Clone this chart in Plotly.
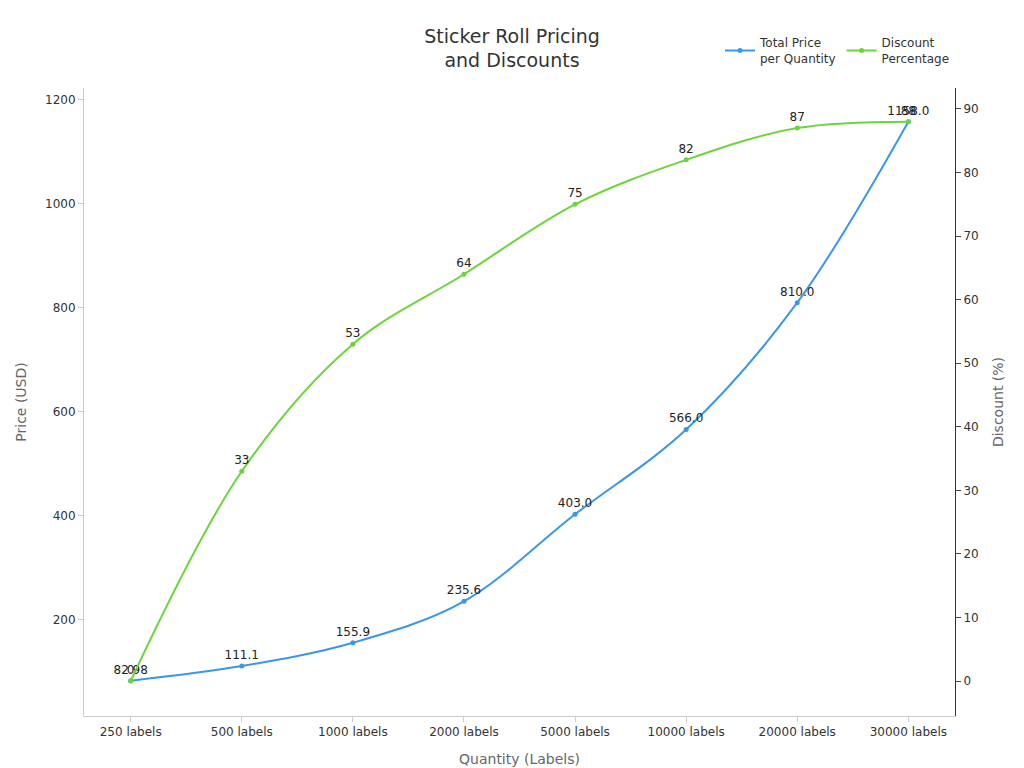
import plotly.graph_objects as go

categories = ["250 labels","500 labels","1000 labels","2000 labels","5000 labels","10000 labels","20000 labels","30000 labels"]
price = [82.98, 111.1, 155.9, 235.6, 403.0, 566.0, 810.0, 1158.0]
price_text = ["82.98","111.1","155.9","235.6","403.0","566.0","810.0","1158.0"]
discount = [0, 33, 53, 64, 75, 82, 87, 88]

fig = go.Figure()
fig.add_trace(go.Scatter(x=categories, y=price, name="Total Price<br>per Quantity", mode="lines+markers+text",
    line=dict(color="#3a97e8", width=2, shape="spline"), marker=dict(size=5),
    text=price_text, textposition="top center", textfont=dict(size=12, color="#222")))
fig.add_trace(go.Scatter(x=categories, y=discount, name="Discount<br>Percentage", mode="lines+markers+text",
    line=dict(color="#6dd43c", width=2, shape="spline"), marker=dict(size=5), yaxis="y2",
    text=[str(d) for d in discount], textposition="top center", textfont=dict(size=12, color="#222")))

fig.update_layout(
    autosize=True, template="plotly_white",
    font=dict(family="DejaVu Sans", size=12, color="#333"),
    title=dict(text="Sticker Roll Pricing<br>and Discounts", x=0.5, xanchor="center", y=0.955, font=dict(size=19, color="#333")),
    margin=dict(l=76, r=61, t=80, b=60, autoexpand=False),
    plot_bgcolor="white",
    xaxis=dict(title=dict(text="Quantity (Labels)", font=dict(color="#666", size=14)), showgrid=False, showline=True, linecolor="#ccc", ticks="outside", ticklen=5, tickcolor="#ccc"),
    yaxis=dict(title=dict(text="Price (USD)", font=dict(color="#666", size=14)), range=[15, 1223], showgrid=False, showline=True, linecolor="#ccc", ticks="outside", tickcolor="#ccc", ticklen=5, dtick=200, zeroline=False),
    yaxis2=dict(title=dict(text="Discount (%)", font=dict(color="#666", size=14)), overlaying="y", side="right", range=[-5.5, 93.3], showgrid=False, showline=True, linecolor="#333", ticks="outside", ticklen=5, dtick=10, zeroline=False),
    legend=dict(orientation="h", x=1.0, xanchor="right", y=1.095, yanchor="top", font=dict(size=12)),
)
fig.write_html("out.html", default_width="100%", default_height="100vh")
